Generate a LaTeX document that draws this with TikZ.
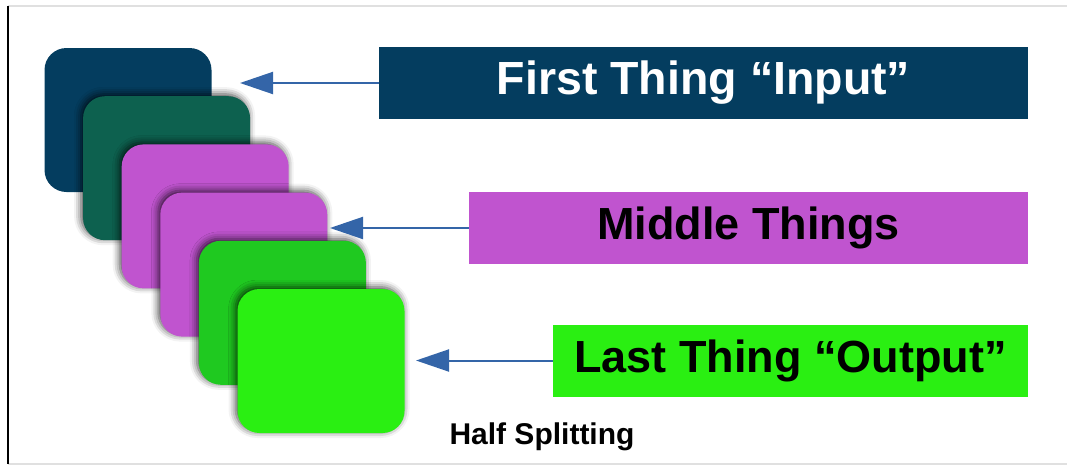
\documentclass[tikz,border=0pt]{standalone}
\usepackage{fontspec}
\setmainfont{Liberation Sans}
\usetikzlibrary{arrows.meta,shadows.blur}
\definecolor{navyblue}{HTML}{043D5F}
\definecolor{pinegreen}{HTML}{0D614F}
\definecolor{orchid}{HTML}{C054CF}
\definecolor{leafgreen}{HTML}{1FC920}
\definecolor{limegreen}{HTML}{2AEF12}
\definecolor{arrowblue}{HTML}{3465A8}
\begin{document}
\begin{tikzpicture}[x=1pt,y=-1pt,
		card/.style={rounded corners=22pt,minimum width=167pt,minimum height=144pt,inner sep=0pt},
		cardshadow/.style={blur shadow={shadow xshift=-2pt,shadow yshift=2pt,shadow blur radius=7pt,shadow opacity=75}},
		tag/.style={minimum height=72pt,inner sep=0pt,font=\fontsize{45}{54}\selectfont\bfseries},
		pointer/.style={draw=arrowblue,line width=2pt,-{Triangle[length=33pt,width=22pt]}}]
		\useasboundingbox (0,0) rectangle (1067,466);
		
		% frame
		\draw[black!12,line width=1.5pt] (8,6) -- (1067,6);
		\draw[black!12,line width=1.5pt] (8,464) -- (1067,464);
		\draw[black,line width=1.5pt] (8,6) -- (8,464);
		
		% stack of cards
		\node[card,fill=navyblue] (card1) at (128,120) {};
		\node[card,fill=pinegreen,cardshadow] (card2) at (166.6,168.2) {};
		\node[card,fill=orchid,cardshadow] (card3) at (205.2,216.4) {};
		\node[card,fill=orchid,cardshadow] (card4) at (243.8,264.6) {};
		\node[card,fill=leafgreen,cardshadow] (card5) at (282.4,312.8) {};
		\node[card,fill=limegreen,cardshadow] (card6) at (321,361) {};
		
		% labels
		\node[tag,fill=navyblue,text=white,minimum width=649pt,font=\fontsize{46.5}{56}\selectfont\bfseries] (first) at (703.5,83) {First Thing “Input”};
		\node[tag,fill=orchid,text=black,minimum width=559pt] (middle) at (748.5,228) {Middle Things};
		\node[tag,fill=limegreen,text=black,minimum width=475pt] (last) at (790.5,360.5) {Last Thing “Output”};
		
		\coordinate (tip1) at (240,83);
		\coordinate (tip2) at (330,228);
		\coordinate (tip3) at (416,360.5);
		
		\draw[pointer] (first.west) -- (tip1);
		\draw[pointer] (middle.west) -- (tip2);
		\draw[pointer] (last.west) -- (tip3);
		
		\node[font=\fontsize{30}{36}\selectfont\bfseries] (caption) at (542,437) {Half Splitting};
	\end{tikzpicture}
\end{document}
